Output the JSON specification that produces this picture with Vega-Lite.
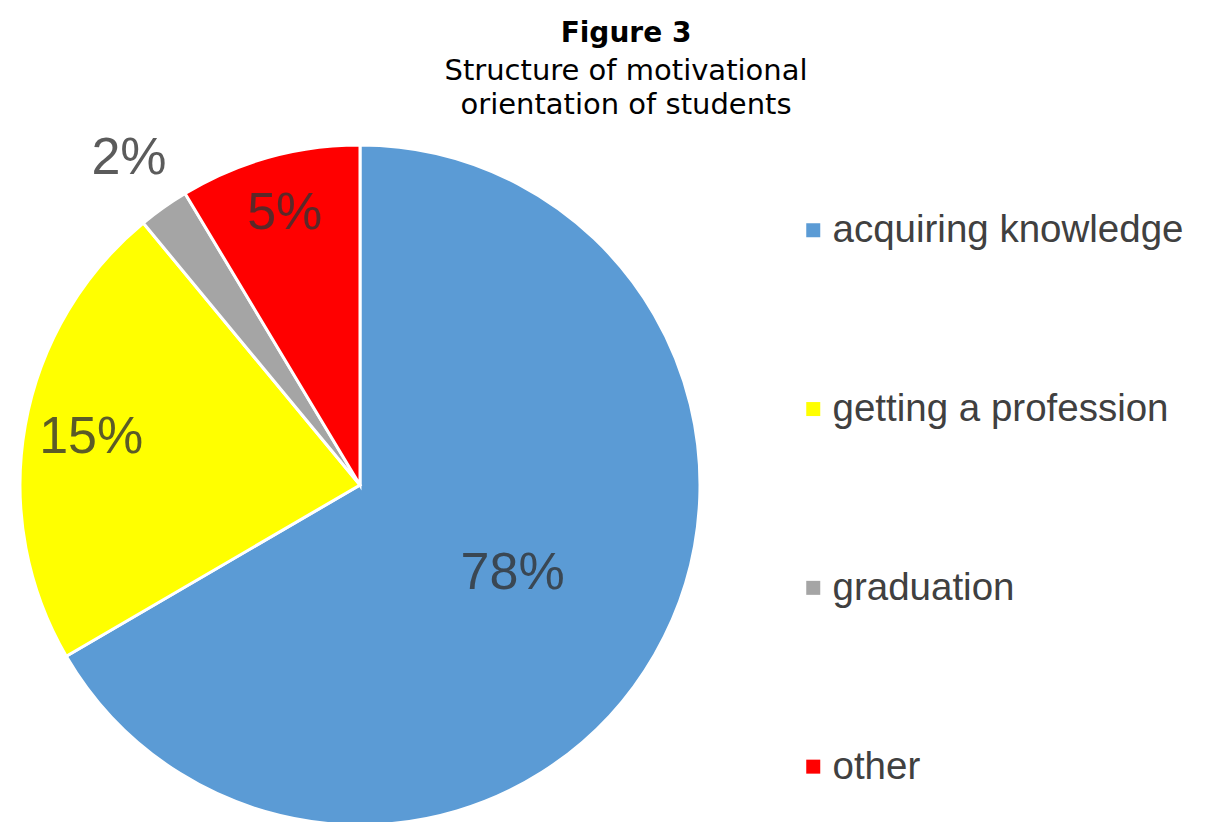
{
  "$schema": "https://vega.github.io/schema/vega-lite/v6.json",
  "width": 720,
  "height": 970,
  "autosize": {"type": "none"},
  "padding": {"left": 0, "top": 0, "right": 496, "bottom": -148},
  "background": "white",
  "title": {
    "text": "Figure 3",
    "subtitle": ["Structure of motivational", " orientation of students"],
    "font": "DejaVu Sans",
    "fontSize": 28,
    "fontWeight": "bold",
    "color": "black",
    "subtitleFont": "DejaVu Sans",
    "subtitleFontSize": 29,
    "subtitleColor": "black",
    "subtitleLineHeight": 34,
    "subtitlePadding": 9,
    "anchor": "middle",
    "dx": 266,
    "offset": -120,
    "frame": "group"
  },
  "data": {
    "values": [
      {"category": "acquiring knowledge", "share": 66.6, "label": "78%", "idx": 1},
      {"category": "getting a profession", "share": 22.4, "label": "15%", "idx": 2},
      {"category": "graduation", "share": 2.4, "label": "2%", "idx": 3},
      {"category": "other", "share": 8.6, "label": "5%", "idx": 4}
    ]
  },
  "encoding": {
    "theta": {"field": "share", "type": "quantitative", "stack": true},
    "order": {"field": "idx", "type": "quantitative"}
  },
  "layer": [
    {
      "mark": {"type": "arc", "outerRadius": 340, "stroke": "white", "strokeWidth": 3},
      "encoding": {
        "color": {
          "field": "category",
          "type": "nominal",
          "scale": {
            "domain": ["acquiring knowledge", "getting a profession", "graduation", "other"],
            "range": ["#5B9BD5", "#FFFF00", "#A5A5A5", "#FF0000"]
          },
          "legend": {
            "orient": "none",
            "legendX": 794,
            "legendY": 211,
            "title": null,
            "symbolType": "square",
            "symbolSize": 196,
            "symbolStrokeWidth": 0,
            "symbolOpacity": 1,
            "labelFont": "Liberation Sans",
            "labelFontSize": 38.5,
            "labelColor": "#404040",
            "rowPadding": 139.8,
            "labelOffset": 0,
            "labelLimit": 500
          }
        }
      }
    },
    {
      "mark": {
        "type": "text",
        "radius": {"expr": "datum.category == 'acquiring knowledge' ? 176 : datum.category == 'getting a profession' ? 273 : datum.category == 'graduation' ? 400 : 282"},
        "font": "Liberation Sans",
        "fontSize": 52,
        "fill": "#333333",
        "opacity": 0.8,
        "align": "center",
        "baseline": "middle"
      },
      "encoding": {
        "text": {"field": "label"}
      }
    }
  ],
  "config": {"view": {"stroke": null}}
}
